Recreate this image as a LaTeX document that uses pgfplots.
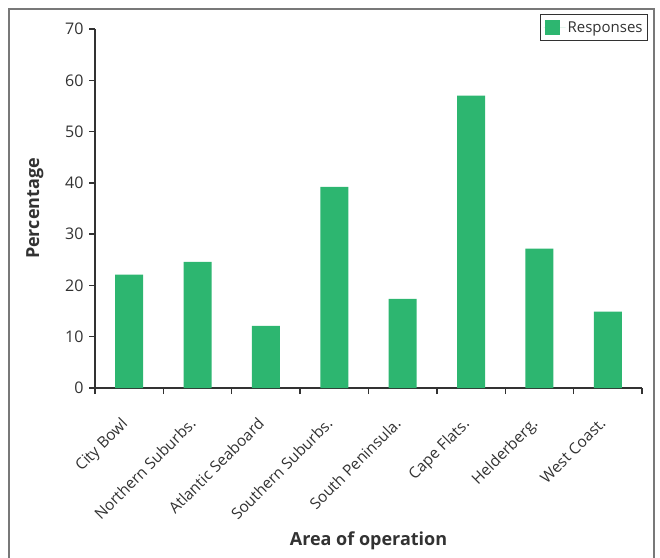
\documentclass[border=0pt]{standalone}
\usepackage{pgfplots}
\pgfplotsset{compat=1.18}
\usepackage{fontspec}
\setmainfont{Open Sans}
\definecolor{barg}{RGB}{45,182,112}
\definecolor{axg}{RGB}{50,50,50}
\begin{document}
\begin{tikzpicture}
\path[use as bounding box] (-95pt,-169pt) rectangle (565pt,388pt);
\draw[color={rgb,255:red,120;green,120;blue,120}, line width=1.3pt]
  (-86pt,-200pt) -- (-86pt,379pt) -- (559pt,379pt) -- (559pt,-200pt);
\begin{axis}[
  at={(0,0)}, anchor=south west,
  scale only axis, width=547pt, height=359pt,
  xmin=-0.5, xmax=7.5, ymin=0, ymax=70,
  ytick={0,10,...,70},
  axis x line*=bottom, axis y line*=left,
  axis line style={draw=axg, line width=1.3pt},
  every tick/.style={draw=axg, line width=1.3pt},
  xtick={0,...,7},
  xticklabels={City Bowl, Northern Suburbs., Atlantic Seaboard, Southern Suburbs., South Peninsula., Cape Flats., Helderberg., West Coast.},
  major x tick style={draw=none},
  minor xtick={-0.5,0.5,...,7.5},
  tick align=outside, major tick length=6pt, minor tick length=6pt,
  x tick label style={rotate=45, anchor=north east, font=\fontsize{15.5}{17}\selectfont, text=axg, yshift=-6pt, xshift=-19pt},
  y tick label style={font=\fontsize{16}{18}\selectfont, text=axg, xshift=-2pt},
  /pgf/number format/assume math mode=true,
  ylabel={Percentage}, xlabel={Area of operation},
  ylabel style={at={(axis description cs:-0.11,0.5)}, anchor=center, font=\fontsize{18}{21}\selectfont\bfseries, text=axg},
  xlabel style={at={(axis description cs:0.5,0)}, yshift=-153pt, anchor=center, font=\fontsize{18}{21}\selectfont\bfseries, text=axg},
  ybar, bar width=28pt,
  legend style={at={(1.011,1.042)}, anchor=north east, draw=axg, line width=0.8pt,
    font=\fontsize{15}{18}\selectfont, text=axg, inner xsep=3pt, inner ysep=5pt},
  legend image code/.code={\path (-1pt,0pt) -- (21pt,0pt);\fill[barg] (0pt,-7.5pt) rectangle (15pt,7.5pt);},
]
\addplot[fill=barg, draw=none] coordinates {
  (0,22.1) (1,24.6) (2,12.1) (3,39.2) (4,17.4) (5,57.0) (6,27.2) (7,14.9)
};
\addlegendentry{Responses}
\end{axis}
\end{tikzpicture}
\end{document}
